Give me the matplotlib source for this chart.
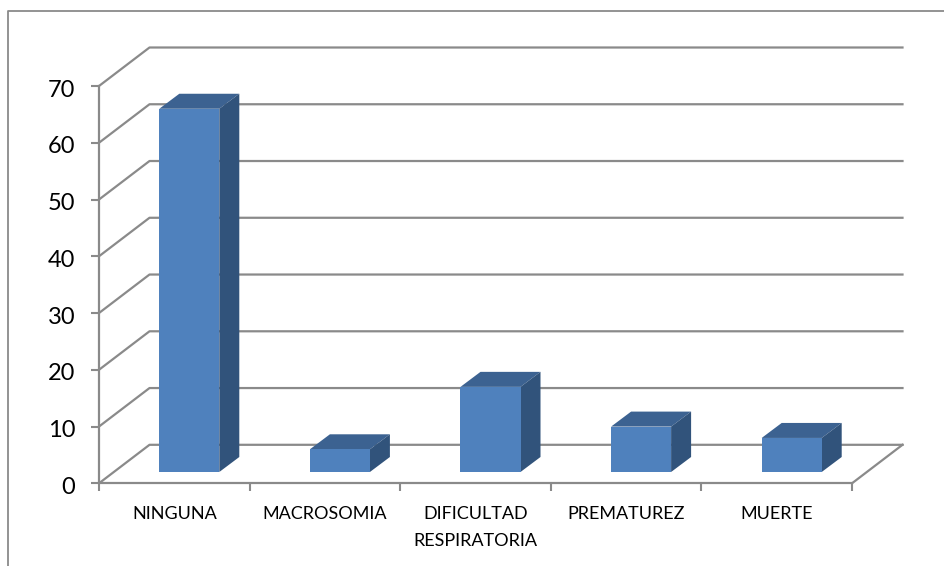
import matplotlib
matplotlib.use("Agg")
import matplotlib.pyplot as plt
from matplotlib.lines import Line2D
from matplotlib.patches import Polygon
from matplotlib.transforms import ScaledTranslation

categories = ["NINGUNA", "MACROSOMIA", "DIFICULTAD\nRESPIRATORIA", "PREMATUREZ", "MUERTE"]
values = [64, 4, 15, 8, 6]
y_ticks = [0, 10, 20, 30, 40, 50, 60, 70]

GRAY = "#8a8a8a"
FRONT = "#4f81bd"
TOP = "#3c6291"
SIDE = "#31537b"

W, H = 945, 566
X0, X1 = 99.0, 852.0
Y0, Y70 = 483.3, 86.0

# depth of the fake 3d box, in data units
px_x = (X1 - X0) / len(categories)
px_y = (Y0 - Y70) / 70.0
wall_dx = 50.5 / px_x
wall_dy = 38.5 / px_y
bar_w = 60.0 / px_x
bar_dx = 20.0 / px_x
bar_dy = 15.0 / px_y
bar_shift = 15.0 / px_x
bar_floor = 11.3 / px_y

fig = plt.figure(figsize=(W / 100, H / 100), dpi=100, facecolor="white")
ax = fig.add_axes([X0 / W, 1 - Y0 / H, (X1 - X0) / W, (Y0 - Y70) / H])
ax.set_xlim(0, len(categories))
ax.set_ylim(0, 70)
ax.patch.set_visible(False)

for s in ["top", "right"]:
    ax.spines[s].set_visible(False)
for s in ["left", "bottom"]:
    ax.spines[s].set_color(GRAY)
    ax.spines[s].set_linewidth(1.6)

# side wall, back wall and floor lines
n = len(categories)
for v in y_ticks:
    ax.plot([0, wall_dx, n + wall_dx], [v, v + wall_dy, v + wall_dy],
            color=GRAY, lw=1.6, clip_on=False, zorder=1, solid_joinstyle="round")
ax.plot([n, n + wall_dx], [0, wall_dy], color=GRAY, lw=1.6, clip_on=False, zorder=1)

for i, v in enumerate(values):
    left = i + (1 - bar_w) / 2 + bar_shift
    right = left + bar_w
    top = bar_floor + v
    ax.add_patch(Polygon([[left, top], [right, top], [right + bar_dx, top + bar_dy],
                          [left + bar_dx, top + bar_dy]],
                         closed=True, color=TOP, lw=0, clip_on=False, zorder=3))
    ax.add_patch(Polygon([[right, bar_floor], [right + bar_dx, bar_floor + bar_dy],
                          [right + bar_dx, top + bar_dy], [right, top]],
                         closed=True, color=SIDE, lw=0, clip_on=False, zorder=3))
    ax.bar(left, v, width=bar_w, bottom=bar_floor, align="edge", color=FRONT,
           lw=0, clip_on=False, zorder=4)

ax.set_yticks(y_ticks)
ax.tick_params(axis="y", length=5.5, width=1.5, color=GRAY, labelsize=17,
               labelcolor="black", pad=11.5)
ax.set_xticks(range(n + 1))
ax.set_xticklabels([])
ax.tick_params(axis="x", which="major", length=5.5, width=1.5, color=GRAY)
ax.set_xticks([i + 0.5 for i in range(n)], minor=True)
ax.set_xticklabels(categories, minor=True, fontsize=13, linespacing=1.85)
ax.tick_params(axis="x", which="minor", length=0, pad=16, labelcolor="black")
for t in ax.get_xticklabels(minor=True) + ax.get_yticklabels():
    t.set_family("Lato")

# value labels sit a little under their ticks
nudge = ScaledTranslation(0, -1.5 / 72, fig.dpi_scale_trans)
for t in ax.get_yticklabels():
    t.set_transform(t.get_transform() + nudge)

# outer chart frame, running off the right and bottom edges
fig.add_artist(Line2D([1, 8.5 / W, 8.5 / W], [1 - 10.5 / H, 1 - 10.5 / H, 0],
                      color=GRAY, lw=1.3, transform=fig.transFigure))

fig.savefig("out.png", dpi=100)
